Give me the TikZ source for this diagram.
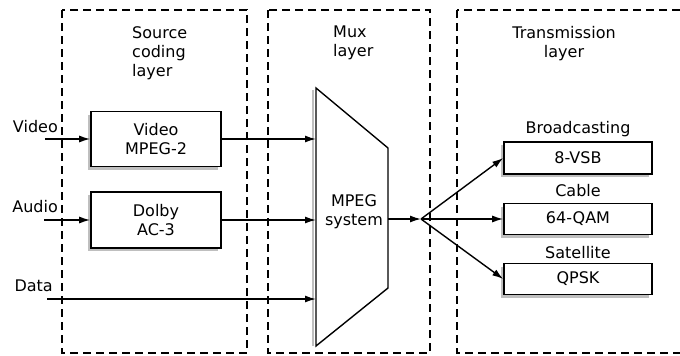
\documentclass[tikz,border=0pt]{standalone}
\usepackage{fontspec}
\setmainfont{DejaVu Sans}
\usetikzlibrary{arrows.meta,shadows}

\begin{document}
\begin{tikzpicture}[x=1pt,y=-1pt,
    font=\fontsize{16}{19}\selectfont,
    layerbox/.style={draw,line width=1.7pt,dash pattern=on 8pt off 5pt},
    block/.style={draw,line width=1.6pt,fill=white,align=center,inner sep=0pt,
        drop shadow={shadow xshift=-3pt,shadow yshift=-3pt,fill=black!25,opacity=1}},
    flow/.style={-{Latex[length=11pt,width=7pt]},line width=1.4pt}]

    \useasboundingbox (0,0) rectangle (680,356);

    % layers
    \draw[layerbox](62,10) rectangle (247,353);
    \draw[layerbox](268,10) rectangle (430,353);
    \draw[layerbox](457,10) rectangle (700,353);
    \node[anchor=north west,align=left,inner sep=0pt] (srclab) at (132,26) {Source\\coding\\layer};
    \node[anchor=north west,align=left,inner sep=0pt] (muxlab) at (333,26) {Mux\\layer};
    \node[anchor=north,align=center,inner sep=0pt] (trlab) at (564,26) {Transmission\\layer};

    % source coders
    \node[block,minimum width=130pt,minimum height=55pt] (vid) at (156,139) {Video\\MPEG-2};
    \node[block,minimum width=130pt,minimum height=56pt] (aud) at (156,220) {Dolby\\AC-3};

    % mux
    \coordinate (mux1) at (316,88);
    \coordinate (mux2) at (388,148);
    \coordinate (mux3) at (388,288);
    \coordinate (mux4) at (316,346);
    \draw[black!25,line width=2.5pt](313,90)--(313,346);
    \draw[line width=1.4pt,fill=white](mux1)--(mux2)--(mux3)--(mux4)--cycle;
    \node[align=center,inner sep=0pt] (muxtxt) at (354,212) {MPEG\\system};

    % modulators
    \node[block,minimum width=148pt,minimum height=32pt] (vsb) at (578,158) {8-VSB};
    \node[block,minimum width=148pt,minimum height=31pt] (qam) at (578,219) {64-QAM};
    \node[block,minimum width=148pt,minimum height=31pt] (qpsk) at (578,279) {QPSK};
    \node[anchor=base] (vsblab) at (578,133) {Broadcasting};
    \node[anchor=base] (qamlab) at (578,196) {Cable};
    \node[anchor=base] (qpsklab) at (578,258) {Satellite};

    % inputs
    \node[anchor=base east,inner sep=0pt] (vidlab) at (58,132) {Video};
    \node[anchor=base east,inner sep=0pt] (audlab) at (58,212) {Audio};
    \node[anchor=base east,inner sep=0pt] (datlab) at (53,291) {Data};
    \coordinate (vidin) at (45,139);
    \coordinate (audin) at (44,220);
    \coordinate (datin) at (47,299);
    \draw[flow](vidin)--(vid.west);
    \draw[flow](audin)--(aud.west);
    \draw[flow](vid.east)--(vid.east-|mux1);
    \draw[flow](aud.east)--(aud.east-|mux1);
    \draw[flow](datin)--(datin-|mux1);

    % outputs
    \coordinate (split) at (421,219);
    \draw[flow](split-|mux2)--(split);
    \draw[flow](split)--(vsb.west);
    \draw[flow](split)--(qam.west);
    \draw[flow](split)--(qpsk.west);

\end{tikzpicture}
\end{document}
